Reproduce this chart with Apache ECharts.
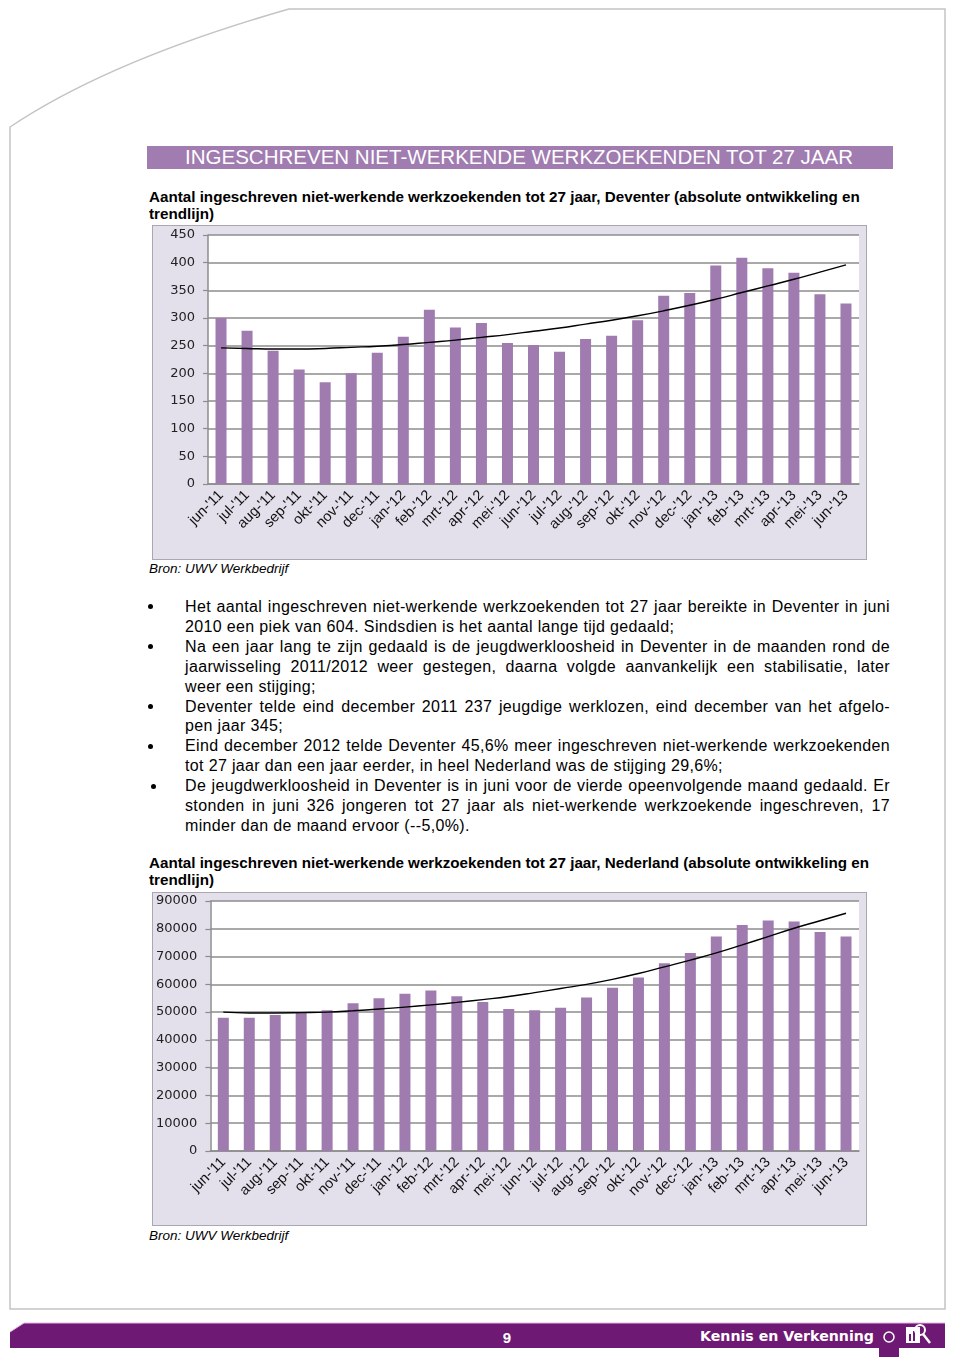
<!DOCTYPE html>
<html>
<head>
<meta charset="utf-8">
<script src="https://cdn.jsdelivr.net/npm/echarts@6/dist/echarts.min.js"></script>
<style>
  body { margin: 0; }
  #page { position: relative; width: 960px; height: 1362px; background: #fff; overflow: hidden;
    font-family: "Liberation Sans", Arial, sans-serif; color: #000; }
  #deco { position: absolute; left: 0; top: 0; }
  .sub { position: absolute; left: 149px; font-weight: bold; font-size: 15.2px; line-height: 17px; white-space: nowrap; }
  .bron { position: absolute; left: 149px; font-style: italic; font-size: 13.5px; line-height: 16px; }
  .chart { position: absolute; left: 152px; width: 713px; border: 1px solid #a9a7b0; background: #e3dfeb; }
  #text { position: absolute; left: 185px; top: 597px; width: 705px; font-size: 16px; letter-spacing: 0.35px; line-height: 19.9px; }
  #text div { white-space: nowrap; }
  #text .j { text-align: justify; text-align-last: justify; }
  .dot { position: absolute; width: 5px; height: 5px; border-radius: 50%; background: #000; }
</style>
</head>
<body>
<div id="page">
  <svg id="deco" width="960" height="1362">
    <path d="M 10 1309 L 10 127 Q 110 60 289 9 L 945 9 L 945 1309 Z" fill="none" stroke="#c4c4c4" stroke-width="1.5"/>
    <rect x="147" y="146" width="746" height="23" fill="#a07cb0"/>
    <text x="185" y="164" fill="#fff" font-family="Liberation Sans, Arial" font-size="20" textLength="668" lengthAdjust="spacingAndGlyphs">INGESCHREVEN NIET-WERKENDE WERKZOEKENDEN TOT 27 JAAR</text>
    <path d="M 10 1332 L 24 1323 L 945 1323 L 945 1348 L 10 1348 Z" fill="#6e1a74"/>
    <path d="M 10 1332 L 24 1323 L 945 1323" fill="none" stroke="#e2b2e2" stroke-width="1"/>
    <text x="507" y="1343" fill="#fff" font-family="Liberation Sans, Arial" font-weight="bold" font-size="15" text-anchor="middle">9</text>
    <text x="700" y="1341" fill="#fff" font-family="DejaVu Sans, Arial" font-weight="bold" font-size="14" textLength="174" lengthAdjust="spacingAndGlyphs">Kennis en Verkenning</text>
    <circle cx="889" cy="1337" r="5" fill="none" stroke="#fff" stroke-width="1.5"/>
    <path d="M 879 1357 L 879 1348 Q 889 1342 899 1348 L 899 1357 Z" fill="#6e1a74"/>
    <rect x="906" y="1327" width="14" height="16" fill="#fff"/>
    <rect x="909" y="1334" width="2" height="7" fill="#6e1a74"/>
    <rect x="913" y="1331" width="2" height="10" fill="#6e1a74"/>
    <circle cx="920" cy="1330" r="5" fill="none" stroke="#fff" stroke-width="2"/>
    <line x1="923" y1="1334" x2="930" y2="1343" stroke="#fff" stroke-width="2.5"/>
  </svg>

  <div class="sub" style="top:188px">Aantal ingeschreven niet-werkende werkzoekenden tot 27 jaar, Deventer (absolute ontwikkeling en<br>trendlijn)</div>
  <div class="chart" id="chart-deventer" style="top:225px;height:333px"></div>
  <div class="bron" style="top:561px">Bron: UWV Werkbedrijf</div>

  <div class="dot" style="left:148px;top:604px"></div>
  <div class="dot" style="left:148px;top:644px"></div>
  <div class="dot" style="left:148px;top:704px"></div>
  <div class="dot" style="left:148px;top:744px"></div>
  <div class="dot" style="left:151px;top:784px"></div>
  <div id="text">
    <div class="j">Het aantal ingeschreven niet-werkende werkzoekenden tot 27 jaar bereikte in Deventer in juni</div>
    <div>2010 een piek van 604. Sindsdien is het aantal lange tijd gedaald;</div>
    <div class="j">Na een jaar lang te zijn gedaald is de jeugdwerkloosheid in Deventer in de maanden rond de</div>
    <div class="j">jaarwisseling 2011/2012 weer gestegen, daarna volgde aanvankelijk een stabilisatie, later</div>
    <div>weer een stijging;</div>
    <div class="j">Deventer telde eind december 2011 237 jeugdige werklozen, eind december van het afgelo-</div>
    <div>pen jaar 345;</div>
    <div class="j">Eind december 2012 telde Deventer 45,6% meer ingeschreven niet-werkende werkzoekenden</div>
    <div>tot 27 jaar dan een jaar eerder, in heel Nederland was de stijging 29,6%;</div>
    <div class="j">De jeugdwerkloosheid in Deventer is in juni voor de vierde opeenvolgende maand gedaald. Er</div>
    <div class="j">stonden in juni 326 jongeren tot 27 jaar als niet-werkende werkzoekende ingeschreven, 17</div>
    <div>minder dan de maand ervoor (--5,0%).</div>
  </div>

  <div class="sub" style="top:854px">Aantal ingeschreven niet-werkende werkzoekenden tot 27 jaar, Nederland (absolute ontwikkeling en<br>trendlijn)</div>
  <div class="chart" id="chart-nederland" style="top:892px;height:332px"></div>
  <div class="bron" style="top:1228px">Bron: UWV Werkbedrijf</div>
</div>

<script>
const months = ["jun-'11", "jul-'11", "aug-'11", "sep-'11", "okt-'11", "nov-'11", "dec-'11",
  "jan-'12", "feb-'12", "mrt-'12", "apr-'12", "mei-'12", "jun-'12", "jul-'12", "aug-'12",
  "sep-'12", "okt-'12", "nov-'12", "dec-'12", "jan-'13", "feb-'13", "mrt-'13", "apr-'13",
  "mei-'13", "jun-'13"]

// Deventer
const deventer = [300, 277, 241, 207, 184, 200, 237, 266, 315, 283, 291, 255, 251, 239, 262,
  268, 296, 340, 345, 395, 409, 390, 382, 343, 326]
const deventerTrend = [246, 245, 244, 244, 245, 247, 249, 252, 256, 260, 265, 270, 276, 282, 289,
  296, 304, 313, 323, 334, 346, 358, 370, 383, 396]
const deventerTicks = [0, 50, 100, 150, 200, 250, 300, 350, 400, 450]

// Nederland
const nederland = [48000, 48000, 49000, 49800, 50700, 53200, 55000, 56600, 57800, 55700, 53600,
  51100, 50700, 51600, 55300, 58800, 62500, 67600, 71300, 77200, 81400, 83000, 82600, 78800, 77200]
const nederlandTrend = [50000, 49700, 49700, 49800, 50000, 50500, 51100, 51800, 52600, 53500, 54500,
  55600, 57000, 58500, 60000, 61800, 63900, 66300, 68700, 71300, 74200, 77200, 80200, 82900, 85600]
const nederlandTicks = [0, 10000, 20000, 30000, 40000, 50000, 60000, 70000, 80000, 90000]

const gridColor = '#8c8c8c'

function buildOption(values, trend, ticks, top, height) {
  return {
    animation: false,
    grid: {
      left: 55, top: top, width: 651, height: height,
      show: true, backgroundColor: '#fff', borderWidth: 0,
    },
    xAxis: {
      type: 'category',
      data: months,
      boundaryGap: true,
      axisLine: { lineStyle: { color: gridColor, width: 1.5 } },
      axisTick: { length: 5, lineStyle: { color: gridColor, width: 1.2 } },
      axisLabel: {
        rotate: 45, margin: 9, interval: 0,
        fontFamily: 'Liberation Sans, Arial', fontSize: 14.5, color: '#111',
      },
    },
    yAxis: {
      type: 'value',
      min: ticks[0],
      max: ticks[ticks.length - 1],
      interval: ticks[1] - ticks[0],
      axisLine: { show: true, lineStyle: { color: gridColor, width: 1.5 } },
      axisTick: { show: true, length: 5, lineStyle: { color: gridColor, width: 1.2 } },
      axisLabel: {
        margin: 13, fontFamily: 'DejaVu Sans', fontSize: 13, color: '#222',
        formatter: (v) => String(v),
      },
      splitLine: { lineStyle: { color: gridColor, width: 1.5 } },
    },
    series: [
      {
        type: 'bar',
        data: values,
        barWidth: 11,
        itemStyle: { color: '#9f7bb0' },
      },
      {
        type: 'line',
        data: trend,
        smooth: true,
        symbol: 'none',
        lineStyle: { color: '#000', width: 1.4 },
      },
    ],
  }
}

const chart1 = echarts.init(document.getElementById('chart-deventer'))
chart1.setOption(buildOption(deventer, deventerTrend, deventerTicks, 9, 249))
const chart2 = echarts.init(document.getElementById('chart-nederland'))
chart2.setOption(buildOption(nederland, nederlandTrend, nederlandTicks, 8, 250))
</script>
</body>
</html>
